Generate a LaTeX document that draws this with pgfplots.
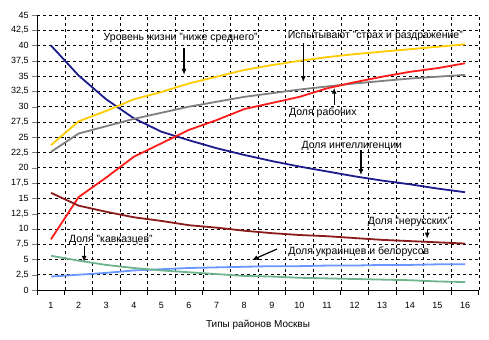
\documentclass[border=0pt]{standalone}
\usepackage{fontspec}
\setmainfont{Liberation Sans}
\usepackage{pgfplots}
\pgfplotsset{compat=1.18}
\usetikzlibrary{arrows.meta}
\definecolor{cnavy}{HTML}{1C1C8C}
\definecolor{cyel}{HTML}{FFCC00}
\definecolor{cgray}{HTML}{808080}
\definecolor{cred}{HTML}{FF1A1A}
\definecolor{cdred}{HTML}{8B1A1A}
\definecolor{cgreen}{HTML}{6EB48C}
\definecolor{clblue}{HTML}{6A96FF}
\begin{document}
\begin{tikzpicture}
\begin{axis}[
  name=ax,
  scale only axis,
  width=441.6pt, height=275pt,
  xmin=0.5, xmax=16.5, ymin=0, ymax=45,
  axis x line=bottom, axis y line=left,
  axis line style={-, black, line width=0.8pt},
  xtick={1,...,16},
  minor xtick={0.5,1.5,...,16.5},
  major x tick style={draw=none},
  minor x tick style={black, line width=0.8pt},
  minor tick length=5pt,
  ytick={0,2.5,...,45},
  major tick length=5pt,
  tick align=outside,
  xmajorgrids=false, xminorgrids=true, ymajorgrids=true,
  grid style={black, dashed, line width=0.6pt},
  /pgf/number format/use comma,
  /pgf/number format/assume math mode=true,
  ticklabel style={font=\fontsize{9}{11}\selectfont},
  xticklabel style={yshift=-4pt},
  xlabel={Типы районов Москвы},
  xlabel style={font=\fontsize{10}{12}\selectfont, yshift=-4pt},
  every axis plot/.append style={line width=1.8pt, no markers},
  clip=false,
]
% intelligentsia
\addplot[cnavy] coordinates {(1,40) (2,35.1) (3,31.2) (4,28.1) (5,25.9) (6,24.5) (7,23.2) (8,22.1) (9,21.1) (10,20.2) (11,19.4) (12,18.6) (13,17.9) (14,17.3) (15,16.6) (16,16.0)};
% below average
\addplot[cyel] coordinates {(1,23.7) (2,27.6) (3,29.3) (4,31.2) (5,32.4) (6,33.8) (7,34.9) (8,36.0) (9,36.8) (10,37.5) (11,38.1) (12,38.6) (13,39.0) (14,39.4) (15,39.8) (16,40.2)};
% fear
\addplot[cgray] coordinates {(1,22.6) (2,25.6) (3,26.8) (4,28.0) (5,29.0) (6,30.0) (7,30.8) (8,31.6) (9,32.2) (10,32.8) (11,33.3) (12,33.8) (13,34.2) (14,34.6) (15,34.9) (16,35.2)};
% workers
\addplot[cred] coordinates {(1,8.3) (2,15.2) (3,18.4) (4,21.8) (5,24.0) (6,26.2) (7,27.8) (8,29.6) (9,30.6) (10,31.6) (11,33.0) (12,34.0) (13,34.9) (14,35.7) (15,36.3) (16,37.1)};
% non-russians
\addplot[cdred] coordinates {(1,15.9) (2,13.8) (3,12.8) (4,11.9) (5,11.3) (6,10.6) (7,10.2) (8,9.7) (9,9.3) (10,9.0) (11,8.8) (12,8.5) (13,8.2) (14,8.0) (15,7.8) (16,7.6)};
% ukrainians
\addplot[clblue] coordinates {(1,2.2) (2,2.5) (3,2.8) (4,3.2) (5,3.4) (6,3.6) (7,3.7) (8,3.8) (9,3.9) (10,3.9) (11,4.0) (12,4.0) (13,4.1) (14,4.1) (15,4.2) (16,4.2)};
% caucasians
\addplot[cgreen] coordinates {(1,5.6) (2,4.8) (3,4.1) (4,3.6) (5,3.2) (6,2.9) (7,2.6) (8,2.3) (9,2.2) (10,2.0) (11,1.9) (12,1.8) (13,1.7) (14,1.6) (15,1.4) (16,1.3)};

\begin{scope}[every node/.style={font=\fontsize{10.5}{12}\selectfont, inner sep=0pt}, >={Latex[length=6pt,width=5pt]}]
\node at (axis cs:5.70,41.3) {Уровень жизни "ниже среднего"};
\draw[->, line width=1.2pt] (axis cs:5.82,39.6) -- (axis cs:5.82,35.2);
\node at (axis cs:12.75,41.6) {Испытывают "страх и раздражение"};
\draw[->, line width=1.2pt] (axis cs:10.14,40.4) -- (axis cs:10.14,34.0);
\node at (axis cs:10.85,29.0) {Доля рабочих};
\draw[->, line width=1.2pt] (axis cs:11.26,30.3) -- (axis cs:11.26,33.1);
\node at (axis cs:11.9,23.6) {Доля интеллигенции};
\draw[->, line width=1.2pt] (axis cs:12.23,22.9) -- (axis cs:12.23,18.8);
\node at (axis cs:13.99,11.1) {Доля "нерусских"};
\draw[->, line width=1.2pt] (axis cs:14.63,10.0) -- (axis cs:14.63,8.4);
\node at (axis cs:12.15,6.2) {Доля украинцев и белорусов};
\draw[->, line width=1.2pt] (axis cs:9.19,6.7) -- (axis cs:8.28,4.9);
\node at (axis cs:3.17,8.2) {Доля "кавказцев"};
\draw[->, line width=1.2pt] (axis cs:2.2,7.2) -- (axis cs:2.2,4.6);
\end{scope}
\end{axis}
\pgfresetboundingbox
\path ([xshift=-37.2pt,yshift=-50pt]ax.south west) rectangle ([xshift=10.2pt,yshift=15pt]ax.north east);
\end{tikzpicture}
\end{document}
